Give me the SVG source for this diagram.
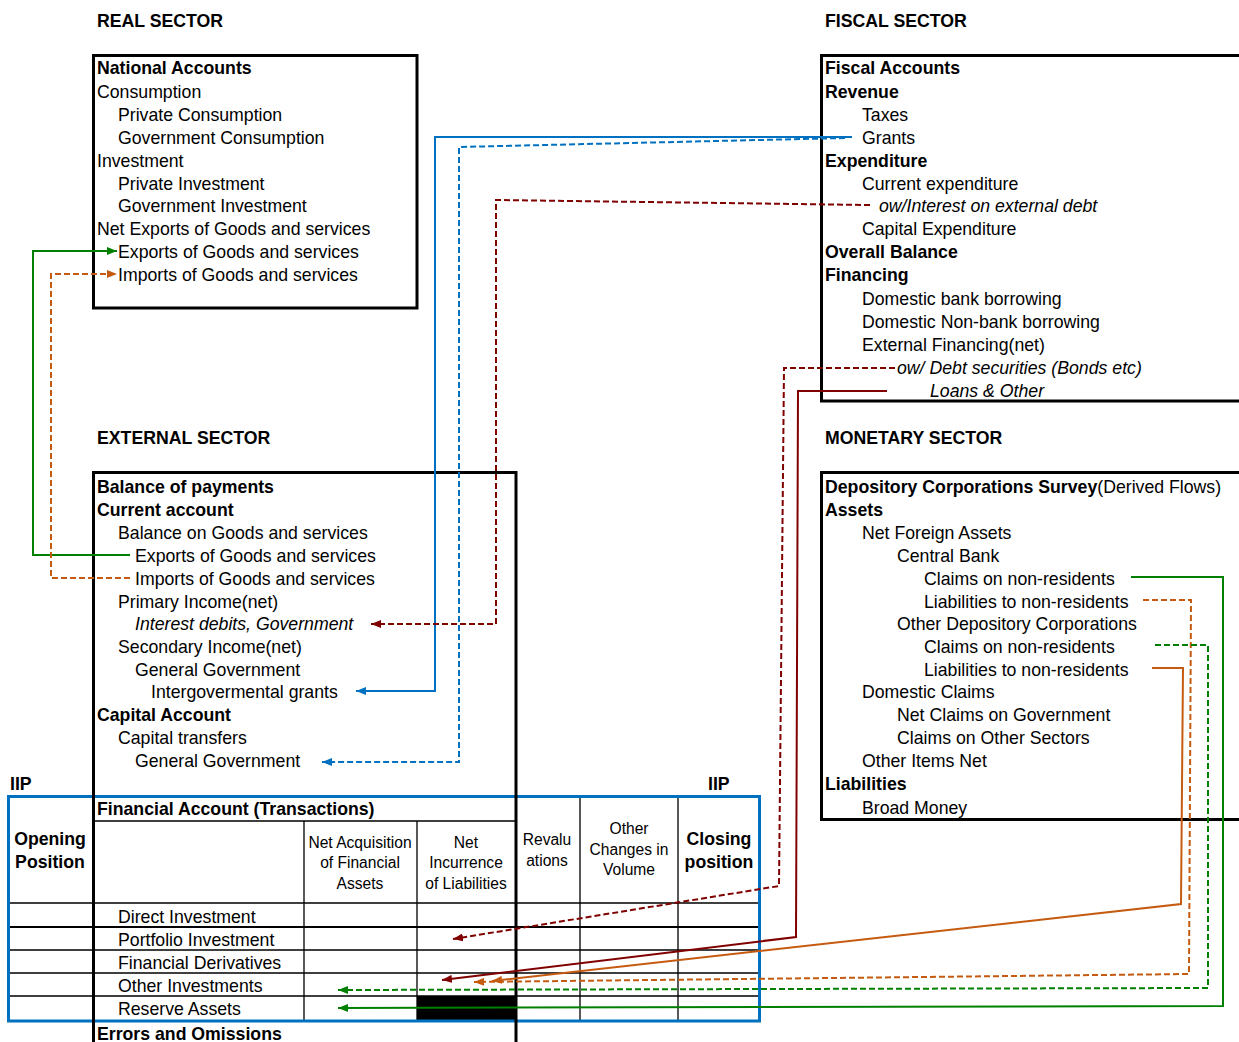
<svg xmlns="http://www.w3.org/2000/svg" width="1239" height="1042" viewBox="0 0 1239 1042">
<style>
text{font-family:"Liberation Sans",Arial,sans-serif;font-size:17.7px;fill:#000}
.b{font-weight:bold}
.i{font-style:italic}
.h{font-size:15.6px;text-anchor:middle}
.hb{font-weight:bold;text-anchor:middle}
.box{fill:none;stroke:#000;stroke-width:3}
.grid{stroke:#000;stroke-width:1.3;fill:none}
.c{fill:none;stroke-width:2}
.d{stroke-dasharray:6,3}
.green{stroke:#008000}
.orange{stroke:#C55A11}
.red{stroke:#800000}
.blue{stroke:#0070C0}
</style>
<defs>
<marker id="ag" markerUnits="userSpaceOnUse" markerWidth="10" markerHeight="8" refX="10" refY="4" orient="auto"><path d="M0,0L10,4L0,8z" fill="#008000"/></marker>
<marker id="ao" markerUnits="userSpaceOnUse" markerWidth="10" markerHeight="8" refX="10" refY="4" orient="auto"><path d="M0,0L10,4L0,8z" fill="#C55A11"/></marker>
<marker id="ar" markerUnits="userSpaceOnUse" markerWidth="10" markerHeight="8" refX="10" refY="4" orient="auto"><path d="M0,0L10,4L0,8z" fill="#800000"/></marker>
<marker id="ab" markerUnits="userSpaceOnUse" markerWidth="10" markerHeight="8" refX="10" refY="4" orient="auto"><path d="M0,0L10,4L0,8z" fill="#0070C0"/></marker>
</defs>

<g id="real-sector">
<text class="b" x="97" y="27">REAL SECTOR</text>
<rect class="box" x="93.5" y="55.5" width="323.5" height="252.5"/>
<text class="b" x="97" y="74">National Accounts</text>
<text x="97" y="98">Consumption</text>
<text x="118" y="121">Private Consumption</text>
<text x="118" y="144">Government Consumption</text>
<text x="97" y="167">Investment</text>
<text x="118" y="190">Private Investment</text>
<text x="118" y="212">Government Investment</text>
<text x="97" y="235">Net Exports of Goods and services</text>
<text x="118" y="258">Exports of Goods and services</text>
<text x="118" y="281">Imports of Goods and services</text>
</g>

<g id="fiscal-sector">
<text class="b" x="825" y="27">FISCAL SECTOR</text>
<rect class="box" x="821.5" y="55.5" width="500" height="345.5"/>
<text class="b" x="825" y="74">Fiscal Accounts</text>
<text class="b" x="825" y="98">Revenue</text>
<text x="862" y="121">Taxes</text>
<text x="862" y="144">Grants</text>
<text class="b" x="825" y="167">Expenditure</text>
<text x="862" y="190">Current expenditure</text>
<text class="i" x="879" y="212">ow/Interest on external debt</text>
<text x="862" y="235">Capital Expenditure</text>
<text class="b" x="825" y="258">Overall Balance</text>
<text class="b" x="825" y="281">Financing</text>
<text x="862" y="305">Domestic bank borrowing</text>
<text x="862" y="328">Domestic Non-bank borrowing</text>
<text x="862" y="351">External Financing(net)</text>
<text class="i" x="897" y="374">ow/ Debt securities (Bonds etc)</text>
<text class="i" x="930" y="397">Loans &amp; Other</text>
</g>

<g id="monetary-sector">
<text class="b" x="825" y="444">MONETARY SECTOR</text>
<rect class="box" x="821.5" y="472.5" width="500" height="347"/>
<text x="825" y="493"><tspan class="b">Depository Corporations Survey</tspan>(Derived Flows)</text>
<text class="b" x="825" y="516">Assets</text>
<text x="862" y="539">Net Foreign Assets</text>
<text x="897" y="562">Central Bank</text>
<text x="924" y="585">Claims on non-residents</text>
<text x="924" y="608">Liabilities to non-residents</text>
<text x="897" y="630">Other Depository Corporations</text>
<text x="924" y="653">Claims on non-residents</text>
<text x="924" y="676">Liabilities to non-residents</text>
<text x="862" y="698">Domestic Claims</text>
<text x="897" y="721">Net Claims on Government</text>
<text x="897" y="744">Claims on Other Sectors</text>
<text x="862" y="767">Other Items Net</text>
<text class="b" x="825" y="790">Liabilities</text>
<text x="862" y="814">Broad Money</text>
</g>

<g id="external-sector">
<text class="b" x="97" y="444">EXTERNAL SECTOR</text>
<text class="b" x="97" y="493">Balance of payments</text>
<text class="b" x="97" y="516">Current account</text>
<text x="118" y="539">Balance on Goods and services</text>
<text x="135" y="562">Exports of Goods and services</text>
<text x="135" y="585">Imports of Goods and services</text>
<text x="118" y="608">Primary Income(net)</text>
<text class="i" x="135" y="630">Interest debits, Government</text>
<text x="118" y="653">Secondary Income(net)</text>
<text x="135" y="676">General Government</text>
<text x="151" y="698">Intergovermental grants</text>
<text class="b" x="97" y="721">Capital Account</text>
<text x="118" y="744">Capital transfers</text>
<text x="135" y="767">General Government</text>
</g>

<g id="iip-table">
<text class="b" x="10" y="790">IIP</text>
<text class="b" x="708" y="790">IIP</text>
<rect x="417" y="996" width="99" height="25" fill="#000"/>
<path class="grid" d="M93,821H516M304,821V1021M417,821V1021M580,796V1021M678,796V1021M8,903H759M8,950H759M8,973H759M8,996H759"/>
<path d="M8,927H759" stroke="#000" stroke-width="2"/>
<rect x="8.5" y="796.5" width="751" height="224.5" fill="none" stroke="#0070C0" stroke-width="3"/>
<text class="b" x="97" y="815">Financial Account (Transactions)</text>
<text class="hb" x="50" y="845">Opening</text>
<text class="hb" x="50" y="868">Position</text>
<text class="h" x="360" y="848">Net Acquisition</text>
<text class="h" x="360" y="868">of Financial</text>
<text class="h" x="360" y="889">Assets</text>
<text class="h" x="466" y="848">Net</text>
<text class="h" x="466" y="868">Incurrence</text>
<text class="h" x="466" y="889">of Liabilities</text>
<text class="h" x="547" y="845">Revalu</text>
<text class="h" x="547" y="866">ations</text>
<text class="h" x="629" y="834">Other</text>
<text class="h" x="629" y="855">Changes in</text>
<text class="h" x="629" y="875">Volume</text>
<text class="hb" x="719" y="845">Closing</text>
<text class="hb" x="719" y="868">position</text>
<text x="118" y="923">Direct Investment</text>
<text x="118" y="946">Portfolio Investment</text>
<text x="118" y="969">Financial Derivatives</text>
<text x="118" y="992">Other Investments</text>
<text x="118" y="1015">Reserve Assets</text>
<text class="b" x="97" y="1040">Errors and Omissions</text>
</g>

<path id="external-frame" class="box" d="M93.5,1042V472.5H516V1042"/>

<g id="connectors">
<path class="c green" d="M130,555H33V251H117" marker-end="url(#ag)"/>
<path class="c orange d" d="M130,578H51V274H117" marker-end="url(#ao)"/>
<path class="c blue" d="M852,137H435V691H356" marker-end="url(#ab)"/>
<path class="c blue d" d="M845,138L459,147V762H322" marker-end="url(#ab)"/>
<path class="c red d" d="M870,205L496,200V624H371" marker-end="url(#ar)"/>
<path class="c red d" d="M895,368H784L779,886L453,939" marker-end="url(#ar)"/>
<path class="c red" d="M887,391H798L796,937L442,980" marker-end="url(#ar)"/>
<path class="c orange" d="M1152,668H1183L1181,904L492,981" marker-end="url(#ao)"/>
<path class="c orange d" d="M1143,600H1191L1189,974L474,982" marker-end="url(#ao)"/>
<path class="c green d" d="M1155,645H1208V988L338,990" marker-end="url(#ag)"/>
<path class="c green" d="M1131,577H1223V1006L338,1008" marker-end="url(#ag)"/>
</g>
</svg>
